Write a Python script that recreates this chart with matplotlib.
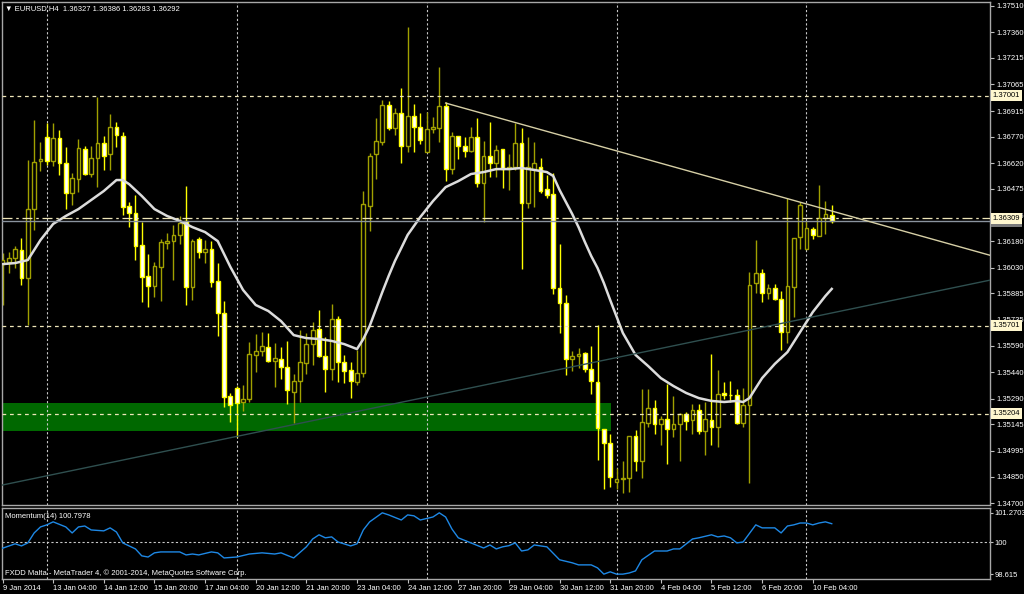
import numpy as np
import matplotlib.pyplot as plt
from matplotlib.patches import Rectangle

plt.rcParams['font.family'] = ['Liberation Sans', 'DejaVu Sans']
FS = 5.5

# EURUSD H4, bar 0 = 9 Jan 2014 20:00
opens = [1.36050, 1.36062, 1.36085, 1.36130, 1.35972, 1.36361, 1.36632, 1.36768, 1.36632, 1.36763,
         1.36621, 1.36452, 1.36531, 1.36700, 1.36559, 1.36650, 1.36734, 1.36672, 1.36824, 1.36774,
         1.36378, 1.36339, 1.36158, 1.35983, 1.35926, 1.36034, 1.36169, 1.36180, 1.36215, 1.36294,
         1.35921, 1.36192, 1.36119, 1.36135, 1.35955, 1.35774, 1.35305, 1.35350, 1.35271, 1.35288,
         1.35537, 1.35559, 1.35582, 1.35503, 1.35514, 1.35469, 1.35328, 1.35390, 1.35491, 1.35598,
         1.35683, 1.35531, 1.35458, 1.35740, 1.35497, 1.35452, 1.35384, 1.35435, 1.36378, 1.36672,
         1.36740, 1.36949, 1.36819, 1.36904, 1.36717, 1.36887, 1.36824, 1.36683, 1.36813, 1.36819,
         1.36943, 1.36587, 1.36774, 1.36717, 1.36689, 1.36768, 1.36508, 1.36661, 1.36621, 1.36700,
         1.36587, 1.36598, 1.36734, 1.36395, 1.36587, 1.36598, 1.36474, 1.36446, 1.35915, 1.35830,
         1.35514, 1.35531, 1.35548, 1.35458, 1.35384, 1.35118, 1.35039, 1.34819, 1.34838, 1.34841,
         1.35079, 1.34937, 1.35152, 1.35237, 1.35147, 1.35175, 1.35118, 1.35147, 1.35203, 1.35169,
         1.35226, 1.35107, 1.35169, 1.35130, 1.35320, 1.35311, 1.35311, 1.35152, 1.35254, 1.35943,
         1.36000, 1.35887, 1.35915, 1.35853, 1.35666, 1.35921, 1.36203, 1.36135, 1.36249, 1.36209,
         1.36310, 1.36327]
highs = [1.36113, 1.36119, 1.36152, 1.36198, 1.36638, 1.36864, 1.36740, 1.36847, 1.36847, 1.36808,
         1.36711, 1.36565, 1.36757, 1.36717, 1.36717, 1.36994, 1.36774, 1.36898, 1.36853, 1.36797,
         1.36401, 1.36441, 1.36288, 1.36107, 1.36062, 1.36192, 1.36226, 1.36271, 1.36322, 1.36491,
         1.36192, 1.36203, 1.36186, 1.36180, 1.36056, 1.35841, 1.35322, 1.35361, 1.35367, 1.35610,
         1.35655, 1.35667, 1.35661, 1.35604, 1.35582, 1.35616, 1.35429, 1.35678, 1.35661, 1.35723,
         1.35791, 1.35638, 1.35825, 1.35757, 1.35537, 1.35497, 1.35565, 1.36463, 1.36678, 1.36875,
         1.36977, 1.36972, 1.36932, 1.37045, 1.37389, 1.36955, 1.36904, 1.36909, 1.36881, 1.37164,
         1.36966, 1.36797, 1.36774, 1.36768, 1.36824, 1.36875, 1.36746, 1.36853, 1.36723, 1.36700,
         1.36672, 1.36847, 1.36819, 1.36768, 1.36740, 1.36650, 1.36554, 1.36565, 1.36164, 1.35875,
         1.35559, 1.35576, 1.35553, 1.35587, 1.35706, 1.35118, 1.35090, 1.34898, 1.34937, 1.35079,
         1.35113, 1.35344, 1.35344, 1.35282, 1.35192, 1.35372, 1.35305, 1.35209, 1.35214, 1.35260,
         1.35260, 1.35271, 1.35542, 1.35452, 1.35384, 1.35390, 1.35344, 1.35350, 1.36006, 1.36186,
         1.36023, 1.35938, 1.35938, 1.35898, 1.36423, 1.36198, 1.36401, 1.36294, 1.36260, 1.36497,
         1.36406, 1.36386]
lows = [1.35819, 1.36000, 1.36028, 1.35932, 1.35706, 1.36243, 1.36576, 1.36610, 1.36604, 1.36554,
        1.36361, 1.36384, 1.36458, 1.36554, 1.36542, 1.36485, 1.36582, 1.36582, 1.36711, 1.36328,
        1.36259, 1.36073, 1.35836, 1.35808, 1.35864, 1.35841, 1.36135, 1.35960, 1.36164, 1.35819,
        1.35847, 1.36085, 1.36056, 1.35921, 1.35644, 1.35243, 1.35158, 1.35073, 1.35220, 1.35271,
        1.35441, 1.35531, 1.35497, 1.35356, 1.35401, 1.35259, 1.35152, 1.35271, 1.35429, 1.35480,
        1.35525, 1.35328, 1.35395, 1.35384, 1.35378, 1.35294, 1.35367, 1.35412, 1.36237, 1.36531,
        1.36723, 1.36808, 1.36780, 1.36621, 1.36683, 1.36683, 1.36729, 1.36683, 1.36791, 1.36740,
        1.36519, 1.36559, 1.36644, 1.36655, 1.36683, 1.36485, 1.36288, 1.36542, 1.36542, 1.36480,
        1.36469, 1.36582, 1.36023, 1.36367, 1.36372, 1.36452, 1.36423, 1.35881, 1.35661, 1.35424,
        1.35446, 1.35463, 1.35441, 1.35316, 1.34943, 1.34779, 1.34791, 1.34779, 1.34757, 1.34762,
        1.34881, 1.34841, 1.35130, 1.35090, 1.35028, 1.34920, 1.35073, 1.34937, 1.35113, 1.35090,
        1.35090, 1.34972, 1.35028, 1.35016, 1.35288, 1.35271, 1.35147, 1.35130, 1.34813, 1.35887,
        1.35836, 1.35853, 1.35847, 1.35565, 1.35604, 1.35751, 1.36135, 1.36135, 1.36192, 1.36209,
        1.36220, 1.36283]
closes = [1.36073, 1.36085, 1.36135, 1.35972, 1.36361, 1.36627, 1.36644, 1.36632, 1.36763, 1.36621,
          1.36452, 1.36537, 1.36706, 1.36559, 1.36650, 1.36734, 1.36661, 1.36824, 1.36780, 1.36372,
          1.36339, 1.36152, 1.35977, 1.35926, 1.36039, 1.36175, 1.36180, 1.36215, 1.36282, 1.35921,
          1.36180, 1.36119, 1.36135, 1.35949, 1.35774, 1.35299, 1.35254, 1.35265, 1.35288, 1.35542,
          1.35559, 1.35587, 1.35503, 1.35520, 1.35469, 1.35339, 1.35390, 1.35497, 1.35598, 1.35678,
          1.35531, 1.35458, 1.35740, 1.35497, 1.35446, 1.35390, 1.35435, 1.36389, 1.36661, 1.36746,
          1.36949, 1.36819, 1.36904, 1.36717, 1.36887, 1.36824, 1.36751, 1.36813, 1.36824, 1.36943,
          1.36587, 1.36774, 1.36717, 1.36689, 1.36768, 1.36508, 1.36661, 1.36621, 1.36695, 1.36587,
          1.36598, 1.36734, 1.36395, 1.36598, 1.36621, 1.36463, 1.36441, 1.35915, 1.35830, 1.35514,
          1.35531, 1.35542, 1.35458, 1.35390, 1.35124, 1.35039, 1.34847, 1.34836, 1.34841, 1.35079,
          1.34937, 1.35158, 1.35237, 1.35147, 1.35175, 1.35118, 1.35147, 1.35203, 1.35164, 1.35226,
          1.35107, 1.35175, 1.35130, 1.35316, 1.35311, 1.35308, 1.35152, 1.35254, 1.35932, 1.36000,
          1.35887, 1.35915, 1.35853, 1.35666, 1.35926, 1.36198, 1.36384, 1.36254, 1.36215, 1.36310,
          1.36333, 1.36292]

# moving average (white line)
ma_bars = [0, 2, 4, 6, 8, 10, 12, 14, 16, 18, 19, 20, 22, 24, 26, 28, 30, 32, 34, 36,
           38, 40, 42, 44, 46, 48, 50, 52, 54, 56, 57, 58, 59, 60, 61, 62, 63, 64, 66, 68,
           70, 72, 74, 76, 78, 80, 82, 84, 86, 87, 88, 89, 90, 91, 92, 93, 94, 95, 96, 98,
           100, 102, 104, 106, 108, 110, 112, 114, 116, 117, 118, 119, 120, 122, 124, 126, 128, 130, 131]
ma_vals = [1.36050, 1.36056, 1.36073, 1.36186, 1.36277, 1.36322, 1.36361, 1.36412, 1.36463, 1.36525,
           1.36525, 1.36502, 1.36435, 1.36361, 1.36322, 1.36294, 1.36259, 1.36231, 1.36180, 1.36034,
           1.35904, 1.35819, 1.35785, 1.35728, 1.35649, 1.35632, 1.35627, 1.35616, 1.35598, 1.35570,
           1.35627, 1.35700, 1.35796, 1.35892, 1.35983, 1.36068, 1.36141, 1.36215, 1.36316, 1.36406,
           1.36485, 1.36519, 1.36559, 1.36570, 1.36587, 1.36587, 1.36593, 1.36582, 1.36570, 1.36548,
           1.36469, 1.36401, 1.36333, 1.36259, 1.36175, 1.36096, 1.36028, 1.35943, 1.35847, 1.35661,
           1.35537, 1.35474, 1.35406, 1.35361, 1.35322, 1.35293, 1.35277, 1.35271, 1.35277, 1.35271,
           1.35293, 1.35350, 1.35406, 1.35486, 1.35553, 1.35666, 1.35779, 1.35870, 1.35910]

# Momentum(14)
mom_bars = [0, 2, 3, 4, 5, 6, 7, 8, 10, 11, 12, 13, 14, 16, 17, 18, 19, 21, 22, 23,
            24, 25, 28, 29, 30, 31, 33, 34, 35, 37, 39, 41, 43, 44, 46, 48, 49, 50, 51, 52,
            53, 55, 56, 57, 58, 60, 61, 63, 64, 65, 66, 68, 69, 70, 71, 72, 74, 76, 77, 78,
            79, 80, 81, 82, 83, 84, 86, 88, 90, 91, 93, 94, 95, 96, 97, 98, 99, 100, 101, 103,
            105, 106, 107, 109, 110, 112, 113, 114, 115, 116, 117, 119, 120, 122, 123, 124, 125, 126, 127, 128,
            129, 130, 131]
mom_vals = [99.74, 99.93, 99.84, 99.97, 100.40, 100.66, 100.75, 100.88, 100.66, 100.40,
            100.66, 100.70, 100.53, 100.49, 100.62, 100.44, 99.97, 99.71, 99.41, 99.36,
            99.54, 99.58, 99.58, 99.45, 99.49, 99.45, 99.58, 99.54, 99.32, 99.36,
            99.49, 99.54, 99.49, 99.54, 99.32, 99.80, 100.14, 100.32, 100.19, 100.23,
            100.01, 99.84, 99.93, 100.53, 100.88, 101.27, 101.18, 100.96, 101.18, 101.14,
            100.96, 101.09, 101.27, 101.09, 100.57, 100.19, 99.97, 99.75, 99.88, 99.71,
            99.80, 99.85, 99.97, 99.62, 99.67, 99.88, 99.80, 99.24, 99.11, 99.02,
            99.02, 98.89, 98.62, 98.72, 98.62, 98.62, 98.67, 98.76, 99.24, 99.62,
            99.62, 99.71, 99.71, 100.14, 100.19, 100.32, 100.23, 100.27, 100.19, 99.97,
            100.01, 100.75, 100.62, 100.62, 100.40, 100.70, 100.75, 100.83, 100.83, 100.75,
            100.83, 100.88, 100.80]

# objects drawn on the chart
hline_levels = [1.37001, 1.35701, 1.35204]
dashdot_level = 1.36309
bid_level = 1.36292
tl1_bars, tl1_prices = [70, 131], [1.36960, 1.36350]
tl2_bars, tl2_prices = [0, 131], [1.34802, 1.35774]
zone_bars = [-3, 96.1]
zone_prices = [1.35107, 1.35265]

price_ticks = [1.37510, 1.37360, 1.37215, 1.37065, 1.36915, 1.36770, 1.36620, 1.36475, 1.36325,
               1.36180, 1.36030, 1.35885, 1.35735, 1.35590, 1.35440, 1.35290, 1.35145, 1.34995,
               1.34850, 1.34700]
time_ticks = [0, 8, 16, 24, 32, 40, 48, 56, 64, 72, 80, 88, 96, 104, 112, 120, 128]
time_labels = ['9 Jan 2014', '13 Jan 04:00', '14 Jan 12:00', '15 Jan 20:00', '17 Jan 04:00',
               '20 Jan 12:00', '21 Jan 20:00', '23 Jan 04:00', '24 Jan 12:00', '27 Jan 20:00',
               '29 Jan 04:00', '30 Jan 12:00', '31 Jan 20:00', '4 Feb 04:00', '5 Feb 12:00',
               '6 Feb 20:00', '10 Feb 04:00']
grid_bars = [7, 37, 67, 97, 127]

o = np.array(opens); h = np.array(highs); l = np.array(lows); c = np.array(closes)
x = np.arange(len(o))
up = c >= o

fig = plt.figure(figsize=(10.24, 5.94), dpi=100, facecolor='black')
ax = fig.add_axes([2/1024, 89/594, 988/1024, 503/594], facecolor='black')
mx = fig.add_axes([2/1024, 15/594, 988/1024, 71.5/594], facecolor='black')

xl = (-0.08, 156.0)
ax.set_xlim(xl)
ax.set_ylim(1.34689, 1.37531)
mx.set_xlim(xl)
mx.set_ylim(98.41, 101.50)

# demand zone
ax.add_patch(Rectangle((zone_bars[0], zone_prices[0]), zone_bars[1] - zone_bars[0],
                       zone_prices[1] - zone_prices[0], facecolor='#006800', edgecolor='none', zorder=0))

for a in (ax, mx):
    for g in grid_bars:
        a.axvline(g, color='#c8c8c8', lw=0.8, ls=(0, (2, 2)), zorder=1)

# candles
bull_col, bear_col = '#a0a000', '#ffff00'
ax.vlines(x[up], l[up], h[up], color=bull_col, lw=1, zorder=2)
ax.vlines(x[~up], l[~up], h[~up], color=bear_col, lw=1, zorder=2)
body_lo = np.minimum(o, c)
body_h = np.maximum(np.abs(c - o), 0.00003)
ax.bar(x[up], body_h[up], bottom=body_lo[up], width=0.6, facecolor='black',
       edgecolor=bull_col, lw=1, zorder=3)
ax.bar(x[~up], body_h[~up], bottom=body_lo[~up], width=0.6, facecolor='white',
       edgecolor=bear_col, lw=1, zorder=3)

ax.plot(ma_bars, ma_vals, color='#dcdcdc', lw=1.8, zorder=4)

# horizontal lines
for lv in hline_levels:
    ax.axhline(lv, color='#efe6b8', lw=0.9, ls=(0, (3, 3)), zorder=5)
ax.axhline(dashdot_level, color='#efe6b8', lw=0.9, ls=(0, (8, 3, 2, 3)), zorder=5)
ax.axhline(bid_level, color='#8a939e', lw=1, zorder=5)

# trend lines (rays)
s1 = (tl1_prices[1] - tl1_prices[0]) / (tl1_bars[1] - tl1_bars[0])
ax.plot([tl1_bars[0], xl[1]], [tl1_prices[0], tl1_prices[0] + s1 * (xl[1] - tl1_bars[0])],
        color='#d6cfa6', lw=1, zorder=5)
s2 = (tl2_prices[1] - tl2_prices[0]) / (tl2_bars[1] - tl2_bars[0])
ax.plot([xl[0], xl[1]], [tl2_prices[0] + s2 * (xl[0] - tl2_bars[0]),
                         tl2_prices[0] + s2 * (xl[1] - tl2_bars[0])],
        color='#2f4f4f', lw=1, zorder=5)

# momentum
mx.axhline(100, color='#c8c8c8', lw=0.8, ls=(0, (2, 2)), zorder=1)
mx.plot(mom_bars, mom_vals, color='#1e88e5', lw=1, zorder=3)

# axes styling
for a in (ax, mx):
    for sp in a.spines.values():
        sp.set_color('#a8a8a8')
        sp.set_linewidth(1)
    a.yaxis.tick_right()
    a.tick_params(axis='y', direction='out', length=3, color='#c0c0c0', labelcolor='white',
                  labelsize=FS, pad=2)
mx.tick_params(axis='y', length=2, pad=1)

ax.set_yticks(price_ticks)
ax.set_yticklabels(['%.5f' % p for p in price_ticks])
ax.tick_params(axis='x', bottom=False, labelbottom=False)

mx.set_yticks([98.615, 100, 101.2703])
mx.set_yticklabels(['98.615', '100', '101.2703'])
mx.set_xticks(time_ticks)
mx.set_xticklabels(time_labels, ha='left')
mx.tick_params(axis='x', direction='out', length=3, color='#c0c0c0', labelcolor='white',
               labelsize=FS, pad=1.5)

# value boxes on the price scale
tr = ax.get_yaxis_transform()
ax.text(1.003, bid_level, '%.5f' % bid_level, transform=tr, ha='left', va='center', fontsize=FS,
        color='white', bbox=dict(boxstyle='square,pad=0.25', fc='#7a7a7a', ec='none'), clip_on=False, zorder=6)
for lv in hline_levels + [dashdot_level]:
    ax.text(1.003, lv, '%.5f' % lv, transform=tr, ha='left', va='center', fontsize=FS,
            color='black', bbox=dict(boxstyle='square,pad=0.25', fc='#fff7cf', ec='none'),
            clip_on=False, zorder=7)

fig.text(5/1024, 1 - 9/594, '\u25bc EURUSD,H4  %.5f %.5f %.5f %.5f' % (o[-1], h[-1], l[-1], c[-1]),
         color='white', fontsize=FS, va='center', ha='left')
mx.text(0.003, 0.88, 'Momentum(14) %.4f' % 100.7978, transform=mx.transAxes, color='white',
        fontsize=FS, va='center', ha='left')
mx.text(0.003, 0.08, 'FXDD Malta - MetaTrader 4, \u00a9 2001-2014, MetaQuotes Software Corp.',
        transform=mx.transAxes, color='white', fontsize=FS, va='center', ha='left')

fig.savefig('out.png', dpi=100, facecolor='black')
